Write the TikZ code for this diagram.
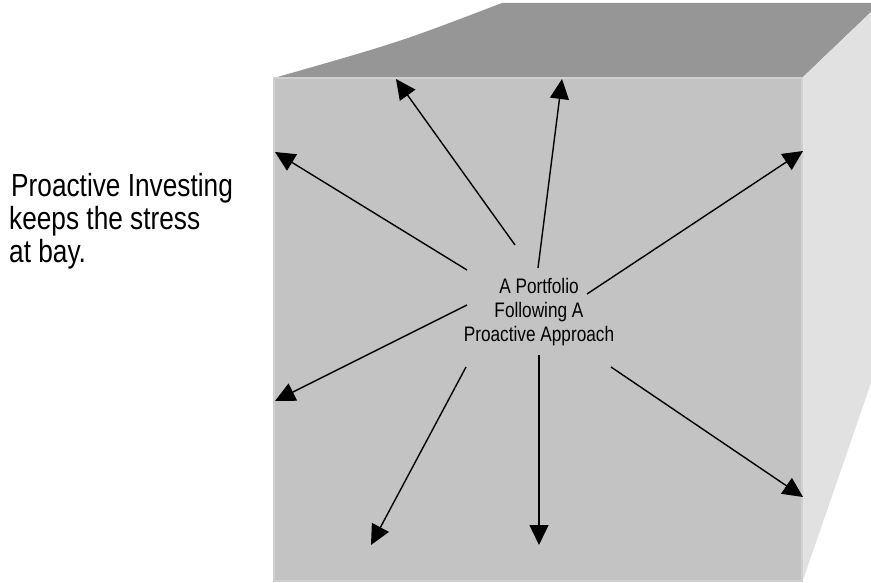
\documentclass[tikz,border=0pt]{standalone}
\usepackage{fontspec}
\setmainfont[FakeStretch=0.82]{Liberation Sans}
\usetikzlibrary{arrows.meta}

\definecolor{facefront}{HTML}{C3C3C3}
\definecolor{facetop}{HTML}{969696}
\definecolor{faceside}{HTML}{E1E1E1}
\definecolor{faceedge}{HTML}{D0D0D0}

\begin{document}
\begin{tikzpicture}[x=1pt, y=-1pt, >={Triangle[length=20pt,width=19pt]},
    push/.style={->, line width=1.4pt}]
    \useasboundingbox (0,0) rectangle (871,583);

    % the box: top, side, front
    \fill[facetop] (274,78) .. controls (400,42) .. (502,3) -- (871,3) -- (871,12) -- (802,78) -- cycle;
    \fill[faceside] (802,78) -- (871,12) -- (871,383) -- (802,583) -- cycle;
    \filldraw[fill=facefront, draw=faceedge, line width=1.5pt] (274,78) rectangle (802,581);

    \node[anchor=base west, align=left, inner sep=0pt, font=\fontsize{32}{33}\selectfont] (motto) at (9,262)
        {\hspace{2pt}Proactive Investing\\keeps the stress\\at bay.};
    \node[align=center, inner sep=0pt, font=\fontsize{21}{24}\selectfont] (core) at (539,312)
        {A Portfolio\\Following A\\Proactive Approach};

    % arrows pushing out from the portfolio
    \coordinate (t1) at (515,245); \coordinate (h1) at (396,79);
    \coordinate (t2) at (538,268); \coordinate (h2) at (562,79);
    \coordinate (t3) at (467,270); \coordinate (h3) at (275,152);
    \coordinate (t4) at (587,294); \coordinate (h4) at (803,151);
    \coordinate (t5) at (467,305); \coordinate (h5) at (275,401);
    \coordinate (t6) at (466,367); \coordinate (h6) at (371,545);
    \coordinate (t7) at (539,355); \coordinate (h7) at (539,545);
    \coordinate (t8) at (611,367); \coordinate (h8) at (803,497);
    \foreach \i in {1,...,8}
        \draw[push] (t\i) -- (h\i);
\end{tikzpicture}
\end{document}
